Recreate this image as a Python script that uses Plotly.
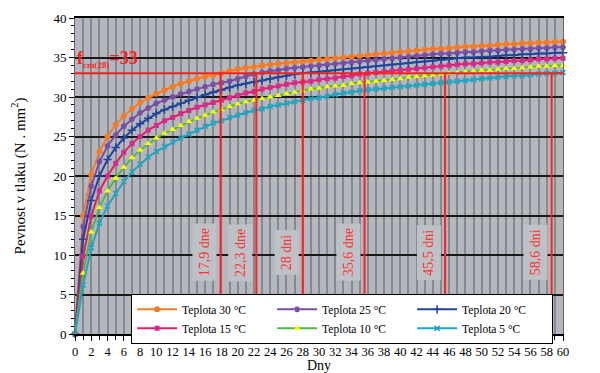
import plotly.graph_objects as go

days = list(range(0, 61))

t30 = [0, 15.0, 20.2, 23.1, 25.0, 26.5, 27.6, 28.5, 29.3, 29.9, 30.4, 30.9, 31.3, 31.7, 32.0, 32.3,
       32.6, 32.8, 33.0, 33.3, 33.5, 33.7, 33.8, 34.0, 34.1, 34.2, 34.3, 34.4, 34.5, 34.6, 34.7,
       34.8, 34.9, 35.0, 35.1, 35.2, 35.3, 35.4, 35.5, 35.6, 35.7, 35.8, 35.9, 36.0, 36.1, 36.1,
       36.2, 36.3, 36.4, 36.4, 36.5, 36.5, 36.6, 36.7, 36.7, 36.8, 36.8, 36.9, 36.9, 37.0, 37.0]
t25 = [0, 13.6, 18.7, 21.8, 23.8, 25.2, 26.3, 27.2, 28.0, 28.6, 29.2, 29.6, 30.0, 30.4, 30.7, 31.0,
       31.3, 31.6, 31.8, 32.0, 32.3, 32.6, 32.9, 33.1, 33.3, 33.4, 33.6, 33.7, 33.8, 33.9, 34.0,
       34.1, 34.2, 34.3, 34.4, 34.5, 34.6, 34.7, 34.8, 34.9, 35.0, 35.1, 35.2, 35.3, 35.4, 35.5,
       35.5, 35.6, 35.7, 35.7, 35.8, 35.9, 35.9, 36.0, 36.0, 36.1, 36.1, 36.2, 36.2, 36.3, 36.3]
t20 = [0, 12.0, 16.9, 20.0, 22.1, 23.6, 24.8, 25.8, 26.6, 27.3, 27.9, 28.4, 28.8, 29.2, 29.6, 30.0,
       30.3, 30.6, 30.9, 31.2, 31.5, 31.7, 31.9, 32.1, 32.3, 32.5, 32.7, 32.9, 33.0, 33.1, 33.2,
       33.3, 33.4, 33.5, 33.6, 33.7, 33.8, 33.9, 34.0, 34.1, 34.2, 34.3, 34.4, 34.5, 34.6, 34.7,
       34.8, 34.9, 35.0, 35.0, 35.1, 35.1, 35.2, 35.3, 35.3, 35.4, 35.4, 35.5, 35.5, 35.6, 35.6]
t15 = [0, 9.8, 14.9, 18.1, 20.0, 21.6, 23.0, 24.1, 25.0, 25.8, 26.4, 27.0, 27.4, 27.9, 28.3, 28.7,
       29.0, 29.3, 29.6, 29.9, 30.2, 30.5, 30.7, 31.0, 31.2, 31.4, 31.6, 31.8, 31.9, 32.0, 32.2,
       32.3, 32.4, 32.6, 32.7, 32.9, 33.0, 33.1, 33.2, 33.3, 33.4, 33.5, 33.6, 33.7, 33.8, 33.9,
       34.0, 34.1, 34.2, 34.2, 34.3, 34.4, 34.4, 34.5, 34.6, 34.6, 34.7, 34.8, 34.8, 34.9, 34.9]
t10 = [0, 7.7, 12.9, 16.0, 18.1, 19.7, 21.1, 22.3, 23.3, 24.1, 24.8, 25.4, 25.9, 26.4, 26.9, 27.3,
       27.7, 28.1, 28.4, 28.8, 29.1, 29.4, 29.6, 29.8, 30.0, 30.2, 30.4, 30.6, 30.8, 31.0, 31.1,
       31.3, 31.4, 31.5, 31.7, 31.8, 31.9, 32.0, 32.1, 32.2, 32.3, 32.5, 32.6, 32.7, 32.8, 32.9,
       33.0, 33.1, 33.2, 33.3, 33.4, 33.4, 33.5, 33.6, 33.6, 33.7, 33.8, 33.9, 33.9, 34.0, 34.0]
t5 = [0, 6.2, 10.9, 14.0, 16.2, 17.8, 19.3, 20.5, 21.5, 22.4, 23.1, 23.7, 24.3, 24.8, 25.3, 25.8,
      26.3, 26.7, 27.0, 27.4, 27.7, 28.0, 28.3, 28.5, 28.8, 29.0, 29.2, 29.4, 29.6, 29.8, 29.9,
      30.1, 30.3, 30.5, 30.6, 30.8, 30.9, 31.0, 31.1, 31.2, 31.3, 31.4, 31.5, 31.6, 31.7, 31.8,
      31.9, 32.0, 32.1, 32.2, 32.3, 32.4, 32.5, 32.6, 32.7, 32.7, 32.8, 32.9, 33.0, 33.0, 33.1]

series_names = ["Teplota 30 °C", "Teplota 25 °C", "Teplota 20 °C",
                "Teplota 15 °C", "Teplota 10 °C", "Teplota 5 °C"]
series_values = [t30, t25, t20, t15, t10, t5]

fcm28 = 33
cross_days = [17.9, 22.3, 28, 35.6, 45.5, 58.6]
cross_labels = ["17,9 dne", "22,3 dne", "28 dni", "35,6 dne", "45,5 dni", "58,6 dni"]

line_colors = ["#f47c26", "#7a4ea3", "#22449a", "#e5215a", "#52b848", "#1ea5c2"]
marker_colors = ["#f47c26", "#7a4ea3", "#22449a", "#d62a93", "#ffff00", "#1ea5c2"]
marker_symbols = ["circle", "asterisk-open", "cross-thin-open", "square", "triangle-up", "x-thin-open"]
marker_sizes = [6, 5, 6, 5, 6, 5]

SERIF = "Liberation Serif"

fig = go.Figure()

for name, vals, lc, mc, ms, sz in zip(series_names, series_values, line_colors,
                                       marker_colors, marker_symbols, marker_sizes):
    open_sym = ms.endswith("open")
    fig.add_trace(go.Scatter(
        x=days, y=vals, name=name, mode="lines+markers",
        line=dict(color=lc, width=2),
        marker=dict(symbol=ms, size=sz, color=mc,
                    line=dict(color=mc, width=1.5 if open_sym else 0)),
        cliponaxis=False,
    ))

# horizontal fcm line
fig.add_shape(type="line", xref="paper", yref="y", x0=0, x1=1, y0=fcm28, y1=fcm28,
              line=dict(color="#ff1f1f", width=2), layer="above")
# vertical lines at crossing days
for d in cross_days:
    fig.add_shape(type="line", xref="x", yref="y", x0=d, x1=d, y0=0, y1=fcm28,
                  line=dict(color="#ff1f1f", width=2), layer="above")

for d, lab in zip(cross_days, cross_labels):
    fig.add_annotation(x=d, y=10.3, xref="x", yref="y", text=lab, textangle=-90,
                       showarrow=False, xshift=-16,
                       font=dict(family=SERIF, size=14, color="#ff3030"),
                       bgcolor="#bec1c6", borderpad=4)

fig.add_annotation(x=0, y=fcm28, xref="paper", yref="y", xanchor="left", yanchor="bottom",
                   text="<b>f<sub><span style='font-size:9px'>cm(28)</span></sub>=33</b>",
                   showarrow=False, yshift=1,
                   font=dict(family=SERIF, size=18, color="#ff1f1f"))

# x-axis title
fig.add_annotation(x=0.5, y=0, xref="paper", yref="paper", xanchor="center", yanchor="top",
                   yshift=-23, text="Dny", showarrow=False, borderpad=0,
                   font=dict(family=SERIF, size=14, color="black"))

# the page body has an 8px margin, so the figure is sized to fit the window
fig.update_layout(
    width=592, height=365,
    margin=dict(l=67, r=37, t=10, b=39, autoexpand=False),
    paper_bgcolor="white",
    plot_bgcolor="#b4b8be",
    font=dict(family=SERIF, size=13, color="black"),
    showlegend=True,
    legend=dict(orientation="h", x=0.115, y=0.127, xanchor="left", yanchor="top",
                bgcolor="white", bordercolor="black", borderwidth=1,
                font=dict(family=SERIF, size=11.5), entrywidth=85,
                tracegroupgap=0, itemwidth=40),
)

fig.update_xaxes(
    range=[0, 60], tick0=0, dtick=2, ticks="outside", ticklen=5, tickcolor="black",
    showgrid=True, gridcolor="#86898e", gridwidth=2,
    minor=dict(dtick=1, tick0=0, showgrid=True, gridcolor="#86898e", gridwidth=2,
               ticks="outside", ticklen=4, tickcolor="black"),
    showline=True, linecolor="black", linewidth=2, mirror=True, zeroline=False,
    automargin=False,
    tickfont=dict(family=SERIF, size=12.5),
)
fig.update_yaxes(
    range=[0, 40], tick0=0, dtick=5, ticks="outside", ticklen=5, tickcolor="black",
    showgrid=True, gridcolor="#1a1a1a", gridwidth=2,
    minor=dict(dtick=1, tick0=0, showgrid=False, ticks="outside", ticklen=3, tickcolor="black"),
    showline=True, linecolor="#666", linewidth=1, mirror=True, zeroline=False,
    automargin=False,
    title=dict(text="Pevnost v tlaku (N . mm<sup>2</sup>)", font=dict(family=SERIF, size=15), standoff=24),
    tickfont=dict(family=SERIF, size=13),
)

fig.write_html("out.html")
